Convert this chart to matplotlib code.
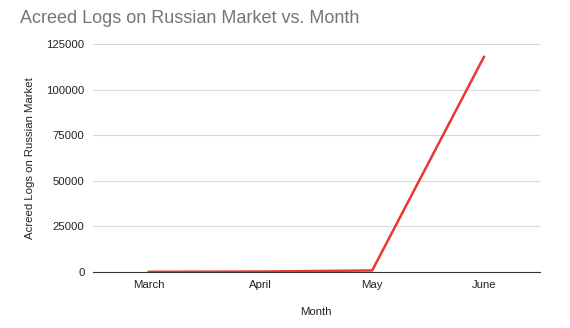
import matplotlib.pyplot as plt

plt.rcParams['font.family'] = ['Liberation Sans', 'DejaVu Sans']

months = ['March', 'April', 'May', 'June']
logs = [50, 200, 800, 117900]
yticks = [0, 25000, 50000, 75000, 100000, 125000]

fig = plt.figure(figsize=(5.7, 3.28), dpi=100)
ax = fig.add_axes([0.163, 0.171, 0.784, 0.695])

ax.plot(range(len(months)), logs, color='#e8382f', linewidth=1.8)
ax.set_xlim(-0.5, len(months) - 0.5)
ax.set_ylim(0, 125000)
ax.set_xticks(range(len(months)))
ax.set_xticklabels(months)
ax.set_yticks(yticks)
ax.set_yticklabels([str(v) for v in yticks])
ax.grid(axis='y', color='#d9d9d9', linewidth=0.8)
ax.set_axisbelow(True)
for s in ['top', 'right', 'left']:
    ax.spines[s].set_visible(False)
ax.spines['bottom'].set_color('#333333')
ax.tick_params(length=0, labelsize=8.2, colors='#222222', pad=6)
ax.set_xlabel('Month', fontsize=8.2, color='#222222', labelpad=12)
ax.set_ylabel('Acreed Logs on Russian Market', fontsize=8.2, color='#222222', labelpad=8)

fig.text(0.035, 0.945, 'Acreed Logs on Russian Market vs. Month', fontsize=13,
         color='#757575', va='center', ha='left')

fig.savefig('out.png', dpi=100)
